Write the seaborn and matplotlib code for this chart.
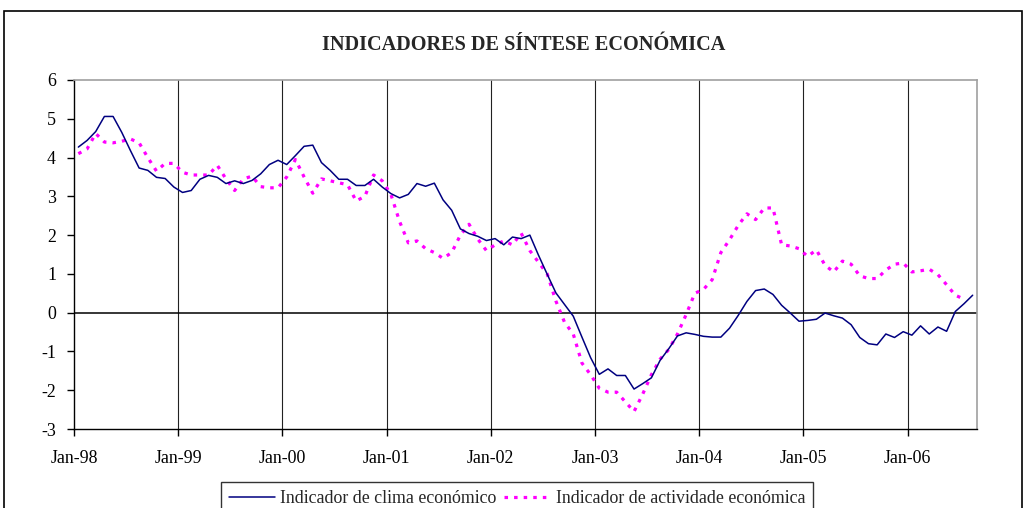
import numpy as np
import pandas as pd
import matplotlib
matplotlib.use("Agg")
import matplotlib.pyplot as plt
from matplotlib.patches import Rectangle
import seaborn as sns

# ---- data (monthly, Jan-98 .. Aug-06) ----
clima = [4.27, 4.44, 4.67, 5.06, 5.06, 4.65, 4.18, 3.73, 3.67, 3.49, 3.46, 3.24,
         3.10, 3.15, 3.44, 3.54, 3.49, 3.33, 3.40, 3.33, 3.41, 3.58, 3.82, 3.93,
         3.82, 4.05, 4.29, 4.32, 3.87, 3.67, 3.44, 3.44, 3.28, 3.28, 3.44, 3.24,
         3.07, 2.96, 3.05, 3.33, 3.26, 3.34, 2.91, 2.64, 2.16, 2.04, 1.97, 1.86,
         1.91, 1.75, 1.95, 1.91, 2.00, 1.48, 0.99, 0.51, 0.21, -0.09, -0.63, -1.16,
         -1.59, -1.45, -1.62, -1.62, -1.97, -1.83, -1.68, -1.23, -0.93, -0.60, -0.52, -0.56,
         -0.61, -0.63, -0.63, -0.40, -0.07, 0.29, 0.57, 0.61, 0.47, 0.19, -0.01, -0.22,
         -0.20, -0.17, -0.01, -0.08, -0.14, -0.31, -0.64, -0.80, -0.83, -0.55, -0.64, -0.49,
         -0.58, -0.34, -0.55, -0.37, -0.48, 0.03, 0.23, 0.45]

actividade = [4.10, 4.22, 4.62, 4.40, 4.38, 4.42, 4.48, 4.38, 4.00, 3.65, 3.85, 3.85,
              3.62, 3.55, 3.55, 3.55, 3.80, 3.45, 3.15, 3.45, 3.52, 3.25, 3.22, 3.22,
              3.50, 3.95, 3.50, 3.08, 3.45, 3.40, 3.35, 3.30, 2.88, 3.00, 3.55, 3.40,
              3.05, 2.35, 1.80, 1.85, 1.65, 1.55, 1.40, 1.55, 2.00, 2.28, 1.90, 1.60,
              1.75, 1.85, 1.75, 2.05, 1.60, 1.30, 1.00, 0.30, -0.25, -0.55, -1.30, -1.60,
              -1.95, -2.05, -2.05, -2.30, -2.55, -2.10, -1.60, -1.20, -0.95, -0.55, -0.05, 0.50,
              0.60, 0.85, 1.55, 1.88, 2.25, 2.55, 2.40, 2.70, 2.70, 1.75, 1.72, 1.65,
              1.45, 1.62, 1.22, 1.05, 1.33, 1.25, 0.95, 0.88, 0.88, 1.10, 1.25, 1.28,
              1.05, 1.08, 1.12, 0.98, 0.72, 0.45, 0.35, np.nan]

tick_labels = ["Jan-98", "Jan-99", "Jan-00", "Jan-01", "Jan-02",
               "Jan-03", "Jan-04", "Jan-05", "Jan-06"]
series_names = ["Indicador de clima económico", "Indicador de actividade económica"]
title = "INDICADORES DE SÍNTESE ECONÓMICA"

n = len(clima)
month = np.arange(n)
df = pd.DataFrame({"month": month, "clima": clima, "actividade": actividade})

sns.set_theme(style="white")
plt.rcParams["font.family"] = ["Liberation Serif", "DejaVu Serif"]
plt.rcParams["axes.unicode_minus"] = False

PINK_DASH = (1.1, 1.9)

fig = plt.figure(figsize=(10.27, 5.08), dpi=100)
ax = fig.add_axes([74 / 1027, 1 - 429 / 508, (977 - 74) / 1027, (429 - 80) / 508])

# vertical gridlines at each January boundary
boundaries = np.arange(-0.5, n, 12)
for b in boundaries[1:]:
    ax.axvline(b, color="#222222", lw=0.8, zorder=0)
ax.axhline(0, color="black", lw=1.1, zorder=1)

sns.lineplot(data=df, x="month", y="clima", ax=ax, color="#000080",
             lw=1.1, label=series_names[0], zorder=3)
sns.lineplot(data=df, x="month", y="actividade", ax=ax, color="#FF00FF",
             lw=2.3, dashes=False, label=series_names[1], zorder=2)
ax.lines[-1].set_dashes(PINK_DASH)

ax.set_xlim(-0.5, n - 0.5)
ax.set_ylim(-3, 6)
ax.set_yticks(range(-3, 7))
ax.set_xticks(boundaries[:len(tick_labels)])
ax.set_xticklabels(tick_labels)
ax.set_xlabel("")
ax.set_ylabel("")
ax.tick_params(axis="both", which="both", direction="out", length=5, width=1,
               color="black", labelsize=12.9, labelcolor="black")
ax.tick_params(axis="x", pad=10, bottom=True)
ax.tick_params(axis="y", pad=8, left=True)

for s in ["left", "bottom"]:
    ax.spines[s].set_color("black")
    ax.spines[s].set_linewidth(1.0)
for s in ["top", "right"]:
    ax.spines[s].set_color("#A0A0A0")
    ax.spines[s].set_linewidth(1.2)

ax.get_legend().remove()
handles, labels = ax.get_legend_handles_labels()
handles[1].set_dashes(PINK_DASH)
leg = fig.legend(handles, labels, loc="upper center", ncol=2,
                 bbox_to_anchor=(517 / 1027, 1 - 482 / 508),
                 frameon=True, fancybox=False, edgecolor="black",
                 fontsize=12.9, handlelength=2.57, handletextpad=0.28,
                 columnspacing=0.45, borderpad=0.45, borderaxespad=0)
leg.get_frame().set_linewidth(1.0)

fig.text(524 / 1027, 1 - 45 / 508, title, ha="center", va="center",
         fontsize=14.6, fontweight="bold")

# outer chart border
fig.patches.append(Rectangle((4 / 1027, -0.2), (1022 - 4) / 1027, 1.2 - 11 / 508,
                             transform=fig.transFigure, fill=False,
                             edgecolor="black", lw=1.2, clip_on=False))

fig.savefig("out.png", dpi=100)
